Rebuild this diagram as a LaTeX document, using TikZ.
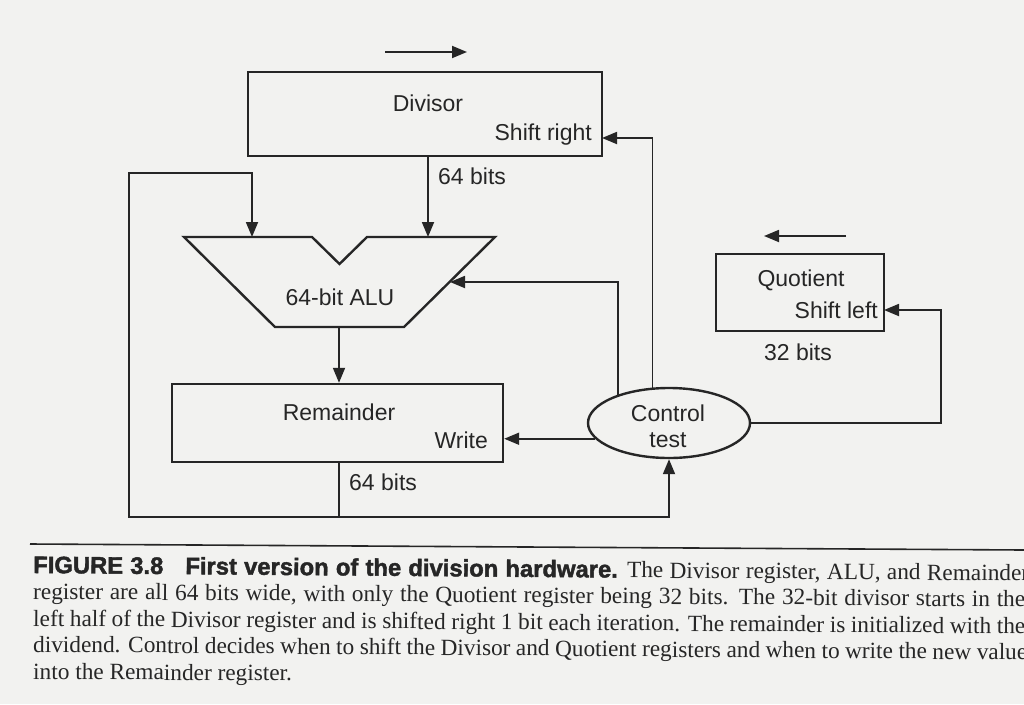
\documentclass[tikz,border=0pt]{standalone}
\usepackage{fontspec}
\setmainfont{Liberation Serif}
\newfontfamily\diagfont{Liberation Sans}
\newfontfamily\headfont{Liberation Sans}[BoldFeatures={FakeBold=1.8}]
\usetikzlibrary{arrows.meta,shapes.geometric,calc}
\definecolor{paper}{RGB}{242,242,240}
\definecolor{ink}{RGB}{38,38,38}
\tikzset{
  regbox/.style={draw=ink, line width=2.4pt, inner sep=0pt},
  lbl/.style={font=\diagfont\fontsize{23}{27}\selectfont, text=ink, inner sep=0pt},
  wire/.style={draw=ink, line width=1.8pt},
  arr/.style={wire, -{Triangle[length=15pt,width=12pt]}},
  captext/.style={font=\fontsize{23.3}{27}\selectfont, text=ink, inner sep=0pt, anchor=base west, rotate=-0.45},
}
\begin{document}
\begin{tikzpicture}[x=1pt,y=-1pt]
\useasboundingbox[fill=paper] (0,0) rectangle (1024,704);
\clip (0,0) rectangle (1024,704);

% registers
\node[regbox, minimum width=354pt, minimum height=84pt] (div) at (425,114) {};
\node[regbox, minimum width=331pt, minimum height=78pt] (rem) at (337.5,423) {};
\node[regbox, minimum width=168pt, minimum height=77pt] (quot) at (800,292.5) {};
\node[regbox, ellipse, minimum width=162pt, minimum height=70pt] (ctrl) at (669,423) {};

% ALU
\coordinate (a1) at (184,237);
\coordinate (a2) at (312,237);
\coordinate (a3) at (339.5,264);
\coordinate (a4) at (367,237);
\coordinate (a5) at (495,237);
\coordinate (a6) at (404,327);
\coordinate (a7) at (275,327);
\draw[draw=ink, line width=2.4pt, line join=miter] (a1) -- (a2) -- (a3) -- (a4) -- (a5) -- (a6) -- (a7) -- cycle;

% labels
\node[lbl] (ldiv) at (428,103) {Divisor};
\node[lbl, anchor=east] (lsr) at (592,135) {Shift right};
\node[lbl, anchor=west] (l64a) at (438,176) {64 bits};
\node[lbl] (lalu) at (340,297) {64-bit ALU};
\node[lbl] (lrem) at (339,412) {Remainder};
\node[lbl, anchor=east] (lwr) at (488,440) {Write};
\node[lbl, anchor=west] (l64b) at (349,482) {64 bits};
\node[lbl] (lquo) at (801,280) {Quotient};
\node[lbl, anchor=east] (lsl) at (878,310) {Shift left};
\node[lbl] (l32) at (798,352) {32 bits};
\node[lbl] (lctl) at (668,413) {Control};
\node[lbl] (ltst) at (668,440) {test};

% direction arrows
\coordinate (dr1) at (385,52);
\coordinate (dr2) at (467,52);
\draw[arr] (dr1) -- (dr2);
\coordinate (ql1) at (846,236);
\coordinate (ql2) at (764,236);
\draw[arr] (ql1) -- (ql2);

% connection points
\coordinate (aluL) at (252,237);
\coordinate (aluR) at (428,237);
\coordinate (aluC) at (450,282);
\coordinate (aluO) at (339,327);
\coordinate (srin) at (602,138);
\coordinate (slin) at (884,310);
\coordinate (slc) at (941,310);
\coordinate (j) at (339,517);
\coordinate (bl) at (129,517);
\coordinate (tl) at (129,173);

% connectors
\draw[arr] (div.south -| aluR) -- (aluR);
\draw[arr] (aluO) -- (rem.north -| aluO);
\draw[arr] (ctrl.115) |- (srin);
\draw[arr] (ctrl.151) |- (aluC);
\draw[arr] (ctrl.192) -- (ctrl.192 -| rem.east);
\draw[arr] (ctrl.east) -| (slc) -- (slin);
\draw[arr] (rem.south -| j) -- (j) -- (bl) -- (tl) -| (aluL);
\draw[arr] (j) -| (ctrl.south);

% caption
\coordinate (r1) at (30,544);
\coordinate (r2) at (1024,550);
\draw[draw=ink, line width=1.6pt] (r1) -- (r2);
\node[captext] (c1) at (33,573) {\hbox to 996pt{{\headfont\bfseries\fontsize{23.8}{27}\selectfont FIGURE 3.8\hspace{22pt}First version of the division hardware.} The Divisor register, ALU, and Remainder}};
\node[captext] (c2) at (33,599) {\hbox to 992pt{register are all 64 bits wide, with only the Quotient register being 32 bits. The 32-bit divisor starts in the}};
\node[captext] (c3) at (33,626) {\hbox to 992pt{left half of the Divisor register and is shifted right 1 bit each iteration. The remainder is initialized with the}};
\node[captext] (c4) at (33,652) {\hbox to 994pt{dividend. Control decides when to shift the Divisor and Quotient registers and when to write the new value}};
\node[captext] (c5) at (33,679) {into the Remainder register.};
\end{tikzpicture}
\end{document}
